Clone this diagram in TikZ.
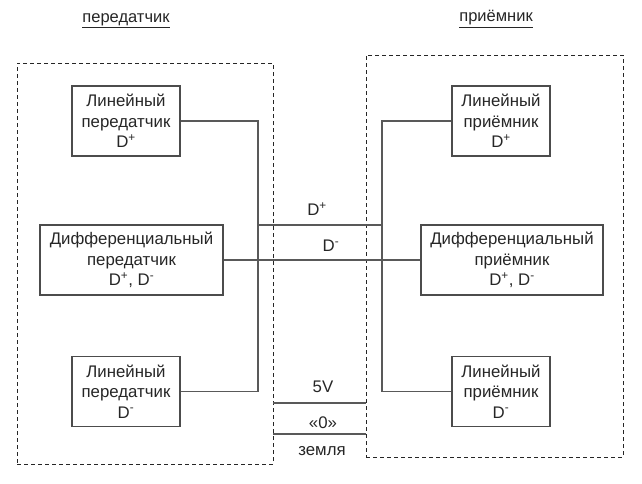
\documentclass[tikz,border=0pt]{standalone}
\usepackage{fontspec}
\setmainfont{Liberation Sans}
\begin{document}
\begin{tikzpicture}[x=1pt,y=-1pt,
  txt/.style={text=black!85, font=\fontsize{16.8}{20.5}\selectfont},
  blk/.style={txt, draw=black!70, line width=1.1pt, rectangle, align=center, inner sep=0pt, minimum height=70pt},
  grp/.style={draw=black!85, dashed, dash pattern=on 4pt off 3pt, line width=0.9pt, rectangle, inner sep=0pt},
  wire/.style={draw=black!65, line width=1.2pt},
  lbl/.style={txt, inner sep=0pt}]
\useasboundingbox (0,0) rectangle (642,483);
% titles
\node[lbl, font=\fontsize{16.5}{20}\selectfont] (tT) at (126,21) {\underline{передатчик}};
\node[lbl, font=\fontsize{16.5}{20}\selectfont] (tR) at (496,19) {\underline{приёмник}};
% dashed groups
\node[grp, minimum width=256pt, minimum height=401pt] (gL) at (145,263.5) {};
\node[grp, minimum width=257pt, minimum height=402pt] (gR) at (494.5,256) {};
% blocks
\node[blk, minimum width=108pt] (L1) at (126,121) {Линейный\\передатчик\\D\textsuperscript{+}};
\node[blk, minimum width=183pt] (LD) at (131.5,260) {Дифференциальный\\передатчик\\D\textsuperscript{+}, D\textsuperscript{-}};
\node[blk, minimum width=108pt] (L3) at (126,391.5) {Линейный\\передатчик\\D\textsuperscript{-}};
\node[blk, minimum width=98pt] (R1) at (501,121) {Линейный\\приёмник\\D\textsuperscript{+}};
\node[blk, minimum width=182pt] (RD) at (512,260) {Дифференциальный\\приёмник\\D\textsuperscript{+}, D\textsuperscript{-}};
\node[blk, minimum width=98pt] (R3) at (501,391.5) {Линейный\\приёмник\\D\textsuperscript{-}};
% junction coordinates
\coordinate (jL) at (258,225);
\coordinate (jR) at (382,225);
\coordinate (v1) at (273,403);
\coordinate (v2) at (366,403);
\coordinate (g1) at (273,434);
\coordinate (g2) at (366,434);
% wires
\draw[wire] (L1.east) -| (jL);
\draw[wire] (L3.east) -| (jL);
\draw[wire] (jL) -- (jR);
\draw[wire] (R1.west) -| (jR);
\draw[wire] (R3.west) -| (jR);
\draw[wire] (LD.east) -- (RD.west);
\draw[wire] (v1) -- (v2);
\draw[wire] (g1) -- (g2);
% labels
\node[lbl] (lDp) at (317,209) {D\textsuperscript{+}};
\node[lbl] (lDm) at (331,246) {D\textsuperscript{-}};
\node[lbl] (l5V) at (323,387) {5V};
\node[lbl] (l0) at (323,423) {«0»};
\node[lbl] (lG) at (322,451) {земля};
\end{tikzpicture}
\end{document}
